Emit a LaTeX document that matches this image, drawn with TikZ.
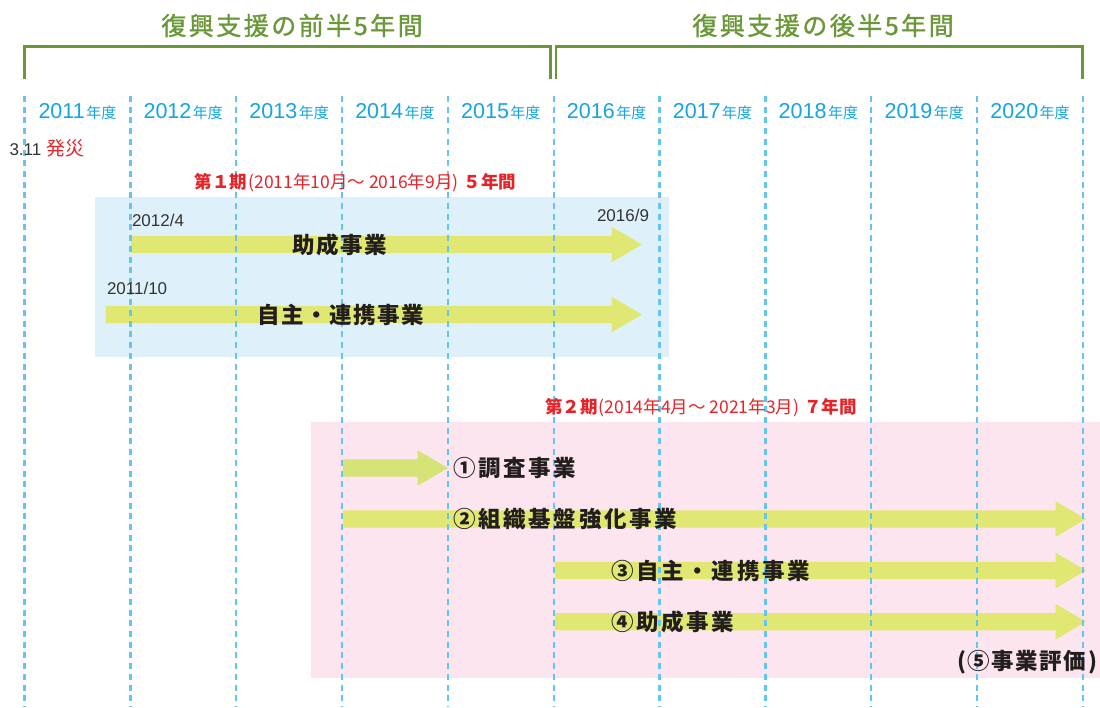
\documentclass[tikz,border=0pt]{standalone}
\usepackage{fontspec}
\setmainfont{Noto Sans CJK JP}
\newfontfamily\lat{Liberation Sans}
\newfontfamily\jpT{Noto Sans CJK JP}[LetterSpace=10,FakeBold=1.3]
\newfontfamily\jpA{Noto Sans CJK JP}[LetterSpace=7]
\newfontfamily\jpB{Noto Sans CJK JP}[LetterSpace=12]
\definecolor{grn}{RGB}{106,152,56}
\definecolor{yeartext}{RGB}{20,165,225}
\definecolor{dashc}{RGB}{100,198,240}
\definecolor{redt}{RGB}{230,35,40}
\definecolor{bluebg}{RGB}{222,241,251}
\definecolor{pinkbg}{RGB}{252,229,238}
\definecolor{arr}{RGB}{225,231,115}
\definecolor{arrg}{RGB}{214,227,118}
\definecolor{ink}{RGB}{35,30,30}
\definecolor{datec}{RGB}{50,50,50}
\newcommand\fatarrow[4]{%
  \fill[#1] (#2,#4-8.7) -- (#3-30.5,#4-8.7) -- (#3-30.5,#4-17.8) -- (#3,#4)
    -- (#3-30.5,#4+17.8) -- (#3-30.5,#4+8.7) -- (#2,#4+8.7) -- cycle;}
\begin{document}
\begin{tikzpicture}[x=1pt,y=-1pt,
  every node/.style={inner sep=0pt,outer sep=0pt},
  titletext/.style={text=grn,font=\jpT\fontsize{25}{25}\selectfont},
  yearlbl/.style={text=yeartext,anchor=base},
  datelbl/.style={text=datec,font=\lat\fontsize{17}{17}\selectfont},
  periodlbl/.style={text=redt,font=\fontsize{17.5}{18}\selectfont},
  bartext/.style={text=ink,font=\jpA\bfseries\fontsize{22.5}{23}\selectfont},
  bartextb/.style={text=ink,font=\jpB\bfseries\fontsize{22.5}{23}\selectfont},
  bracketline/.style={draw=grn,line width=2.4pt},
  gridline/.style={draw=dashc,line width=2.3pt,dash pattern=on 6pt off 4.7pt}]
\useasboundingbox (0,0) rectangle (1100,707);
% backgrounds
\fill[bluebg] (95,197) rectangle (669,357);
\fill[pinkbg] (311,422) rectangle (1100,678);
% arrows
\fatarrow{arr}{131}{642}{244.5}
\fatarrow{arr}{105.5}{642}{314.5}
\fatarrow{arrg}{343}{448}{468}
\fatarrow{arr}{343}{1086}{519}
\fatarrow{arr}{555}{1086}{570.5}
\fatarrow{arr}{555}{1086}{621.7}
% dashed year lines
\foreach \i in {0,...,10}{
  \draw[gridline] (24.5+105.85*\i,96) -- (24.5+105.85*\i,707);
}
% brackets
\draw[bracketline] (24.5,79) -- (24.5,46.5) -- (550.3,46.5) -- (550.3,79);
\draw[bracketline] (556.2,79) -- (556.2,46.5) -- (1082.5,46.5) -- (1082.5,79);
\node[titletext] (t1) at (292,25.5) {復興支援の前半5年間};
\node[titletext] (t2) at (823,25.5) {復興支援の後半5年間};
% year labels
\foreach \y [count=\i from 0] in {2011,2012,2013,2014,2015,2016,2017,2018,2019,2020}{
  \node[yearlbl] (y\y) at (24.5+105.85*\i+52.9,118.3)
    {{\lat\fontsize{21.5}{22}\selectfont\y}\hspace{1.5pt}{\fontsize{15}{16}\selectfont 年度}};
}
% disaster
\node[anchor=west] (dis) at (9.5,148)
  {{\lat\color{datec}\fontsize{17}{17}\selectfont 3.11}\hspace{5pt}{\color{redt}\fontsize{19}{19}\selectfont 発災}};
% period 1
\node[periodlbl] (p1) at (355.5,183)
  {{\bfseries 第１期}\hspace{1pt}(2011年10月～ 2016年9月)\hspace{5pt}{\bfseries ５年間}};
\node[datelbl,anchor=west] (d1) at (132,220) {2012/4};
\node[datelbl,anchor=east] (d2) at (649,215) {2016/9};
\node[datelbl,anchor=west] (d3) at (107,288) {2011/10};
\node[bartext] (b1) at (340,245) {助成事業};
\node[bartext] (b2) at (341,315) {自主・連携事業};
% period 2
\node[periodlbl] (p2) at (701,408)
  {{\bfseries 第２期}\hspace{1pt}(2014年4月～ 2021年3月)\hspace{5pt}{\bfseries ７年間}};
\node[bartextb,anchor=west] (c1) at (453,468) {①調査事業};
\node[bartextb,anchor=west] (c2) at (453,519) {②組織基盤強化事業};
\node[bartextb,anchor=west] (c3) at (611,570.5) {③自主・連携事業};
\node[bartextb,anchor=west] (c4) at (611,622) {④助成事業};
\node[bartext,anchor=east] (c5) at (1097,662) {(⑤事業評価)};
\end{tikzpicture}
\end{document}
